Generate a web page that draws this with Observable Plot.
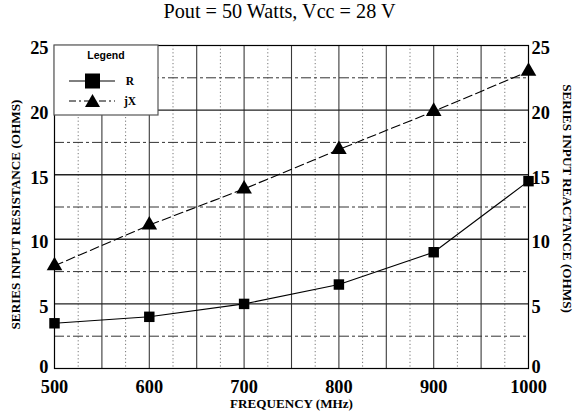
<!DOCTYPE html>
<html><head><meta charset="utf-8">
<script src="https://cdn.jsdelivr.net/npm/d3@7"></script>
<script src="https://cdn.jsdelivr.net/npm/@observablehq/plot@0.6"></script>
<style>body{margin:0;background:#fff}</style>
</head><body><div id="chart"></div>
<script>
const frequency = [500, 600, 700, 800, 900, 1000];
const resistance = [3.5, 4.0, 5.0, 6.5, 9.0, 14.5];
const reactance = [7.95, 11.1, 13.9, 16.95, 19.9, 23.0];
const xTicks = [500, 600, 700, 800, 900, 1000];
const yTicksUpper = [5, 10, 15, 20, 25];
const yTicksZero = [0];
const xMajorGrid = [550, 600, 650, 700, 750, 800, 850, 900, 950];
const xMinorGrid = [525, 575, 625, 675, 725, 775, 825, 875, 925, 975];
const yMajorGrid = [5, 10, 15, 20];
const yMinorGrid = [2.5, 7.5, 12.5, 17.5, 22.5];
const titleText = "Pout = 50 Watts, Vcc = 28 V";
const xLabel = "FREQUENCY (MHz)";
const yLeftLabel = "SERIES INPUT RESISTANCE (OHMS)";
const yRightLabel = "SERIES INPUT REACTANCE (OHMS)";
const legendTitle = "Legend";
const seriesNames = ["R", "jX"];

// pick an installed serif face (Times-like first)
const probe = document.createElement("canvas").getContext("2d");
function hasFont(name) {
  const s = "SERIES INPUT wattsWMQ 0123456789";
  for (const base of ["monospace", "sans-serif"]) {
    probe.font = `bold 40px ${base}`;
    const w0 = probe.measureText(s).width;
    probe.font = `bold 40px "${name}", ${base}`;
    if (Math.abs(probe.measureText(s).width - w0) > 0.5) return true;
  }
  return false;
}
const serifFace = ["Liberation Serif", "Times New Roman", "Tinos", "Nimbus Roman", "DejaVu Serif"].find(hasFont) || "serif";
const sansFace = ["Liberation Sans", "Arial", "Arimo", "DejaVu Sans"].find(hasFont) || "sans-serif";
const serif = `"${serifFace}", serif`;
const sans = `"${sansFace}", sans-serif`;

const rData = frequency.map((f, i) => ({f, v: resistance[i]}));
const xData = frequency.map((f, i) => ({f, v: reactance[i]}));

const tickOpts = {tickSize: 0, fontSize: 18, fontWeight: "bold", label: null};

const plot = Plot.plot({
  width: 576, height: 414,
  marginLeft: 54, marginRight: 48, marginTop: 45, marginBottom: 46,
  style: {fontFamily: serif, background: "#fff", color: "#000"},
  x: {domain: [500, 1000]},
  y: {domain: [0, 25]},
  marks: [
    Plot.ruleX(xMinorGrid, {stroke: "#777", strokeDasharray: "1.2,2.4", strokeWidth: 1}),
    Plot.ruleX(xMajorGrid, {stroke: "#3a3a3a", strokeWidth: 1.1}),
    Plot.ruleY(yMinorGrid, {stroke: "#333", strokeDasharray: "10,3,3,3", strokeWidth: 1}),
    Plot.ruleY(yMajorGrid, {stroke: "#222", strokeWidth: 1.4}),
    Plot.frame({stroke: "#000", strokeWidth: 1.2}),
    Plot.axisX({...tickOpts, ticks: xTicks, tickPadding: 11, tickFormat: d => String(d)}),
    Plot.axisY({...tickOpts, ticks: yTicksUpper, anchor: "left", tickPadding: 6, dy: 3}),
    Plot.axisY({...tickOpts, ticks: yTicksZero, anchor: "left", tickPadding: 6, dy: -1}),
    Plot.axisY({...tickOpts, ticks: yTicksUpper, anchor: "right", tickPadding: 3, dy: 3}),
    Plot.axisY({...tickOpts, ticks: yTicksZero, anchor: "right", tickPadding: 3, dy: -1}),
    Plot.line(rData, {x: "f", y: "v", stroke: "#000", strokeWidth: 1.1}),
    Plot.line(xData, {x: "f", y: "v", stroke: "#000", strokeWidth: 1.1, strokeDasharray: "9,4"}),
    Plot.dot(rData, {x: "f", y: "v", symbol: "square", r: 5.9, fill: "#000", stroke: "none"}),
    Plot.dot(xData, {x: "f", y: "v", symbol: "triangle", r: 5.8, fill: "#000", stroke: "none"}),
    Plot.text([titleText], {frameAnchor: "top", textAnchor: "middle", lineAnchor: "bottom", dy: -28, dx: -12, fontSize: 20}),
    Plot.text([xLabel], {frameAnchor: "bottom", textAnchor: "middle", lineAnchor: "bottom", dy: 39, fontSize: 13, fontWeight: "bold"}),
    Plot.text([yLeftLabel], {frameAnchor: "left", textAnchor: "middle", lineAnchor: "middle", rotate: -90, dx: -39, dy: 7.5, fontSize: 13, fontWeight: "bold"}),
    Plot.text([yRightLabel], {frameAnchor: "right", textAnchor: "middle", lineAnchor: "middle", rotate: 90, dx: 39, dy: -8.5, fontSize: 13, fontWeight: "bold"})
  ]
});
document.getElementById("chart").appendChild(plot);

const svg = d3.select(plot);
svg.selectAll("text").style("font-family", serif);

// fit texts to the widths seen in the reference
function fitText(content, target) {
  svg.selectAll("text").filter(function() { return this.textContent === content; }).each(function() {
    const len = this.getComputedTextLength();
    if (len > 0) {
      const fs = parseFloat(getComputedStyle(this).fontSize);
      this.style.fontSize = (fs * target / len).toFixed(2) + "px";
    }
  });
}
fitText(titleText, 232);
fitText(xLabel, 123);
fitText(yLeftLabel, 230);
fitText(yRightLabel, 229);
{
  let s = null;
  svg.selectAll("text").filter(function() { return this.textContent === "500"; }).each(function() {
    const len = this.getComputedTextLength();
    if (len > 0) s = 27.5 / len;
  });
  if (s) {
    svg.selectAll("text").filter(function() { return /^\d+$/.test(this.textContent); }).each(function() {
      const fs = parseFloat(getComputedStyle(this).fontSize);
      this.style.fontSize = (fs * s).toFixed(2) + "px";
    });
  }
}

// Legend box (decoration, drawn on top of the grid)
const g = svg.append("g").attr("transform", "translate(54,45)");
g.append("rect").attr("x", 0).attr("y", 0).attr("width", 104).attr("height", 70)
  .attr("fill", "#fff").attr("stroke", "#555").attr("stroke-width", 1.2);
g.append("text").attr("x", 52).attr("y", 14).attr("text-anchor", "middle")
  .style("font-family", sans).attr("font-weight", "bold").attr("font-size", 10.5)
  .text(legendTitle);
g.append("line").attr("x1", 15).attr("x2", 61).attr("y1", 36).attr("y2", 36).attr("stroke", "#000").attr("stroke-width", 1);
g.append("rect").attr("x", 31).attr("y", 28.5).attr("width", 15).attr("height", 15).attr("fill", "#000");
g.append("text").attr("x", 76).attr("y", 40).style("font-family", serif).attr("font-weight", "bold").attr("font-size", 11.5).text(seriesNames[0]);
g.append("line").attr("x1", 15).attr("x2", 61).attr("y1", 56).attr("y2", 56).attr("stroke", "#000").attr("stroke-width", 1).attr("stroke-dasharray", "7,3,2,3");
g.append("path").attr("d", "M38.5,49 L46,62 L31,62 Z").attr("fill", "#000");
g.append("text").attr("x", 76).attr("y", 60).style("font-family", serif).attr("font-weight", "bold").attr("font-size", 11.5).text(seriesNames[1]);
</script>
</body></html>
